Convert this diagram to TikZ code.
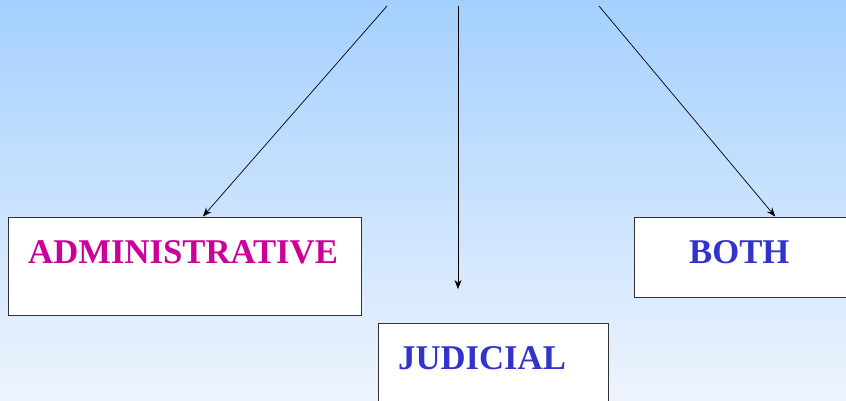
\documentclass[tikz,border=0pt]{standalone}
\usepackage{fontspec}
\setmainfont{Liberation Serif}
\usetikzlibrary{arrows.meta,calc}
\definecolor{bgtop}{RGB}{164,208,255}
\definecolor{bgbot}{RGB}{238,244,253}
\definecolor{magtxt}{RGB}{204,0,153}
\definecolor{bluetxt}{RGB}{51,51,204}
\definecolor{boxline}{RGB}{50,50,50}
\begin{document}
\begin{tikzpicture}[x=1pt,y=-1pt,
  box/.style={draw=boxline,fill=white,line width=1pt,inner sep=0pt},
  lbl/.style={anchor=base west,inner sep=0pt,font=\fontsize{34.7}{40}\selectfont\bfseries},
  arr/.style={-{Stealth[length=9pt,width=7pt]},line width=0.7pt,black}]
\useasboundingbox (0,0) rectangle (846,401);
\shade[top color=bgtop,bottom color=bgbot] (0,0) rectangle (846,401);
\node[box,minimum width=353pt,minimum height=98pt] (adm) at (184.5,266) {};
\node[box,minimum width=230pt,minimum height=84pt] (jud) at (493,365) {};
\node[box,minimum width=218pt,minimum height=80pt] (both) at (743,257) {};
\node[lbl,text=magtxt] (tadm) at (28,263) {ADMINISTRATIVE};
\node[lbl,text=bluetxt] (tjud) at (398,369) {JUDICIAL};
\node[lbl,text=bluetxt] (tboth) at (689,263) {BOTH};
\coordinate (s1) at (387,6);
\coordinate (s2) at (458,6);
\coordinate (s3) at (599,6);
\coordinate (e2) at (458,289);
\draw[arr] (s1) -- ($(adm.north west)!0.552!(adm.north east)$);
\draw[arr] (s2) -- (e2);
\draw[arr] (s3) -- ($(both.north west)!0.647!(both.north east)$);
\end{tikzpicture}
\end{document}
